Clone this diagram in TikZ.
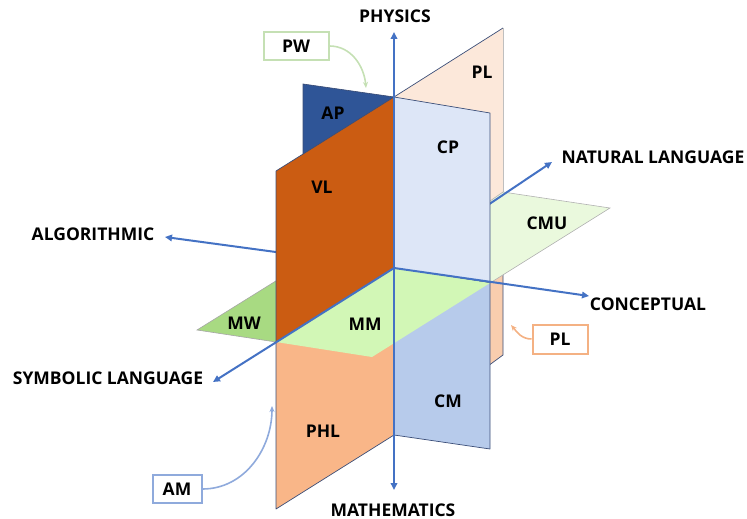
\documentclass[tikz,border=0pt]{standalone}
\usepackage{fontspec}
\setmainfont{Open Sans}
\usetikzlibrary{arrows.meta}
\definecolor{axisblue}{HTML}{4472C4}
\definecolor{edgec}{HTML}{3B4E78}
\definecolor{plup}{HTML}{FCE8DA}
\definecolor{pllow}{HTML}{F9CDAE}
\definecolor{vlc}{HTML}{CB5C12}
\definecolor{phlc}{HTML}{F9B688}
\definecolor{apc}{HTML}{2F5597}
\definecolor{cpc}{HTML}{DDE6F7}
\definecolor{cmc}{HTML}{B7CBEB}
\definecolor{mmc}{HTML}{D2F7B6}
\definecolor{mwc}{HTML}{A8DA82}
\definecolor{cmuc}{HTML}{EAF9DD}
\definecolor{pwc}{HTML}{C5E0B4}
\definecolor{amc}{HTML}{8FAADC}
\definecolor{plbox}{HTML}{F4B183}
\begin{document}
\begin{tikzpicture}[x=1pt,y=-1pt,
  lab/.style={font=\fontsize{17.5}{20}\selectfont\bfseries, inner sep=0pt},
  axisline/.style={draw=axisblue, line width=2pt, -{Triangle[length=7pt,width=6.5pt]}},
  plane/.style={draw=edgec, line width=0.7pt, line join=round},
  callbox/.style={draw=#1, line width=2pt, fill=white, minimum height=28pt, inner sep=0pt,
    font=\fontsize{17.5}{20}\selectfont\bfseries},
  callarrow/.style={draw=#1, line width=1.6pt, -{Stealth[length=6pt,width=5pt]}}
]
\useasboundingbox (0,0) rectangle (747,519);
% key points
\coordinate (Otop) at (394,97);
\coordinate (O) at (394,268);
\coordinate (Obot) at (394,435);
\coordinate (FT) at (276,171);
\coordinate (FS) at (276,342);
\coordinate (FB) at (276,509);
\coordinate (BT) at (503,28);
\coordinate (BM) at (503,192);
\coordinate (BB) at (503,355);
\coordinate (LT) at (303,84);
\coordinate (LM) at (303,255);
\coordinate (RT) at (490,113);
\coordinate (RM) at (490,283);
\coordinate (RB) at (490,449);
\coordinate (CMUr) at (610,208);
\coordinate (MMf) at (372,357);
\coordinate (MWl) at (197,330);
\coordinate (MWb) at (316,256);
% axis tips
\coordinate (vTop) at (394,32);
\coordinate (vBot) at (394,490);
\coordinate (nlTip) at (552,162);
\coordinate (slTip) at (213,382);
\coordinate (alTip) at (165,237);
\coordinate (coTip) at (589,296);

% back vertical plane (PL)
\fill[plup] (Otop) -- (BT) -- (BM) -- (O) -- cycle;
\draw[edgec, line width=0.7pt] (Otop) -- (BT);
\draw[gray!50, line width=0.7pt] (BT) -- (BM);
\fill[pllow] (O) -- (BM) -- (BB) -- (Obot) -- cycle;
\draw[edgec, line width=0.7pt] (BM) -- (BB) -- (Obot);
% AP
\fill[apc] (LT) -- (Otop) -- (O) -- (LM) -- cycle;
\draw[edgec, line width=0.7pt] (LM) -- (LT) -- (Otop);
% CMU
\filldraw[fill=cmuc, draw=gray!60, line width=0.6pt] (O) -- (BM) -- (CMUr) -- (RM) -- cycle;
% natural language axis (hidden part behind CP)
\draw[axisline] (O) -- (nlTip);
% CP and CM
\filldraw[plane, fill=cpc] (Otop) -- (RT) -- (RM) -- (O) -- cycle;
\filldraw[plane, fill=cmc] (O) -- (RM) -- (RB) -- (Obot) -- cycle;
% MW
\filldraw[fill=mwc, draw=gray!70, line width=0.6pt] (MWl) -- (MWb) -- (O) -- (FS) -- cycle;
% algorithmic axis
\draw[axisline] (O) -- (alTip);
% VL and PHL
\filldraw[plane, fill=vlc] (FT) -- (Otop) -- (O) -- (FS) -- cycle;
\filldraw[plane, fill=phlc] (FS) -- (O) -- (Obot) -- (FB) -- cycle;
% MM
\fill[mmc] (O) -- (RM) -- (MMf) -- (FS) -- cycle;
% remaining axes
\draw[axisline] (O) -- (slTip);
\draw[axisline] (O) -- (coTip);
\draw[axisline, {Triangle[length=7pt,width=6.5pt]}-{Triangle[length=7pt,width=6.5pt]}] (vBot) -- (vTop);

% plane labels
\node[lab] (lPL) at (482,72) {PL};
\node[lab] (lAP) at (333,113) {AP};
\node[lab] (lCP) at (448,147) {CP};
\node[lab] (lVL) at (322,187) {VL};
\node[lab] (lCMU) at (547,223) {CMU};
\node[lab] (lMW) at (244,323) {MW};
\node[lab] (lMM) at (365,324) {MM};
\node[lab] (lCM) at (448,401) {CM};
\node[lab] (lPHL) at (323,431) {PHL};

% axis labels
\node[lab] (physics) at (395,16) {PHYSICS};
\node[lab] (natlang) at (653,157) {NATURAL LANGUAGE};
\node[lab] (algo) at (93,234) {ALGORITHMIC};
\node[lab] (concept) at (648,304) {CONCEPTUAL};
\node[lab] (symlang) at (108,378) {SYMBOLIC LANGUAGE};
\node[lab] (math) at (393,510) {MATHEMATICS};

% callouts
\node[callbox=pwc, minimum width=65pt] (pw) at (296,46) {PW};
\coordinate (pwTgt) at (366,88);
\draw[callarrow=pwc] (pw.east) to[out=0,in=95] (pwTgt);

\node[callbox=plbox, minimum width=55pt, minimum height=29pt] (plb) at (560,339) {PL};
\coordinate (plTgt) at (511,325);
\draw[callarrow=plbox] (plb.west) to[out=180,in=-50] (plTgt);

\node[callbox=amc, minimum width=49pt] (am) at (177,489) {AM};
\coordinate (amTgt) at (272,406);
\draw[callarrow=amc] (am.east) to[out=0,in=-90] (amTgt);
\end{tikzpicture}
\end{document}
